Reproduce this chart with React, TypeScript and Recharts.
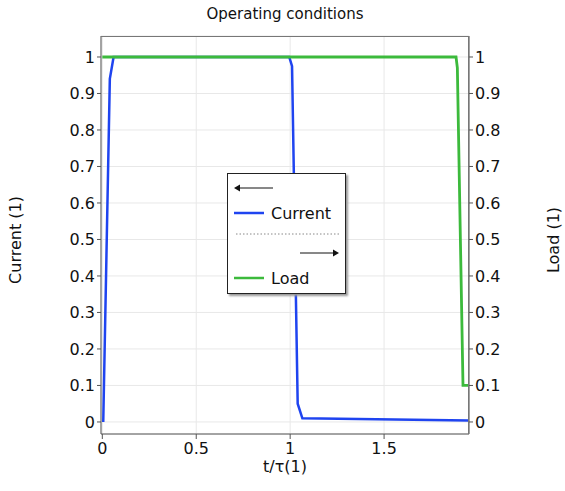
import {
    ComposedChart,
    Line,
    XAxis,
    YAxis,
    CartesianGrid,
} from 'recharts';

const currentX = [0.005, 0.04, 0.06, 0.995, 1.01, 1.04, 1.065, 1.95];
const currentY = [0, 0.94, 1, 1, 0.975, 0.05, 0.01, 0.004];
const loadX = [0, 1.883, 1.89, 1.92, 1.95];
const loadY = [1, 1, 0.97, 0.1, 0.1];
const xTicks = [0, 0.5, 1, 1.5];
const yTicks = [0, 0.1, 0.2, 0.3, 0.4, 0.5, 0.6, 0.7, 0.8, 0.9, 1];

const currentData = currentX.map((x, i) => ({ x, y: currentY[i] }));
const loadData = loadX.map((x, i) => ({ x, y: loadY[i] }));

const BLUE = '#1f44f0';
const GREEN = '#3cba3c';
const FONT = '"DejaVu Sans", sans-serif';

function LegendBox() {
    return (
        <div
            style={{
                position: 'absolute',
                left: 227,
                top: 173,
                width: 117,
                height: 119,
                border: '1px solid #222',
                background: '#fff',
                boxShadow: '2px 2px 2px #999',
            }}
        >
            <svg width={117} height={119} style={{ position: 'absolute', left: 0, top: 0 }}>
                <line x1={9} y1={14} x2={45} y2={14} stroke='#111' strokeWidth={1} />
                <polygon points='6,14 12,10.5 12,17.5' fill='#111' />
                <line x1={6} y1={39} x2={36} y2={39} stroke={BLUE} strokeWidth={2.5} />
                <line x1={8} y1={60} x2={112} y2={60} stroke='#888' strokeWidth={1} strokeDasharray='1.5 2' />
                <line x1={72} y1={79} x2={108} y2={79} stroke='#111' strokeWidth={1} />
                <polygon points='111,79 105,75.5 105,82.5' fill='#111' />
                <line x1={6} y1={104} x2={36} y2={104} stroke={GREEN} strokeWidth={2.5} />
                <text x={43} y={45} fontFamily={FONT} fontSize={16} fill='#111'>Current</text>
                <text x={43} y={110} fontFamily={FONT} fontSize={16} fill='#111'>Load</text>
            </svg>
        </div>
    );
}

const sideLabel = (text: string, cx: number) => (
    <div
        style={{
            position: 'absolute',
            left: cx - 100,
            top: 230,
            width: 200,
            textAlign: 'center',
            transform: 'rotate(-90deg)',
            fontFamily: FONT,
            fontSize: 16,
            color: '#111',
            lineHeight: '20px',
        }}
    >
        {text}
    </div>
);

export default function App() {
    return (
        <div style={{ position: 'absolute', left: 0, top: 0, width: 565, height: 491, background: '#fff' }}>
            <div
                style={{
                    position: 'absolute',
                    left: 101,
                    width: 368,
                    top: 5,
                    textAlign: 'center',
                    fontFamily: FONT,
                    fontSize: 15,
                    color: '#111',
                }}
            >
                Operating conditions
            </div>
            <ComposedChart
                width={565}
                height={491}
                margin={{ top: 36, right: 0, left: 0, bottom: 0 }}
            >
                <CartesianGrid stroke='#e8e8e8' yAxisId='left' />
                <XAxis
                    dataKey='x'
                    type='number'
                    domain={[-0.007, 1.952]}
                    ticks={xTicks}
                    allowDataOverflow
                    height={57}
                    tickSize={5}
                    tickMargin={4}
                    stroke='#555'
                    tick={{ fill: '#111', fontSize: 16, fontFamily: FONT }}
                    tickFormatter={(v) => String(v)}
                    label={{
                        value: 't/τ(1)',
                        position: 'insideBottom',
                        offset: 19,
                        fill: '#111',
                        fontSize: 16,
                        fontFamily: FONT,
                    }}
                />
                <YAxis
                    yAxisId='left'
                    type='number'
                    domain={[-0.033, 1.0575]}
                    ticks={yTicks}
                    allowDataOverflow
                    width={101}
                    tickSize={4}
                    stroke='#555'
                    tick={{ fill: '#111', fontSize: 16, fontFamily: FONT }}
                    tickFormatter={(v) => String(v)}
                />
                <YAxis
                    yAxisId='right'
                    orientation='right'
                    type='number'
                    domain={[-0.033, 1.0575]}
                    ticks={yTicks}
                    allowDataOverflow
                    width={96}
                    tickSize={4}
                    stroke='#555'
                    tick={{ fill: '#111', fontSize: 16, fontFamily: FONT }}
                    tickFormatter={(v) => String(v)}
                />
                <Line
                    yAxisId='left'
                    data={currentData}
                    dataKey='y'
                    name='Current'
                    type='linear'
                    stroke={BLUE}
                    strokeWidth={2.5}
                    dot={false}
                    isAnimationActive={false}
                />
                <Line
                    yAxisId='right'
                    data={loadData}
                    dataKey='y'
                    name='Load'
                    type='linear'
                    stroke={GREEN}
                    strokeWidth={2.8}
                    dot={false}
                    isAnimationActive={false}
                />
            </ComposedChart>
            <div
                style={{
                    position: 'absolute',
                    left: 101,
                    top: 36,
                    width: 367,
                    height: 397,
                    borderTop: '1px solid #777',
                    borderRight: '1px solid #777',
                    pointerEvents: 'none',
                }}
            />
            {sideLabel('Current (1)', 16)}
            {sideLabel('Load (1)', 554)}
            <LegendBox />
        </div>
    );
}
